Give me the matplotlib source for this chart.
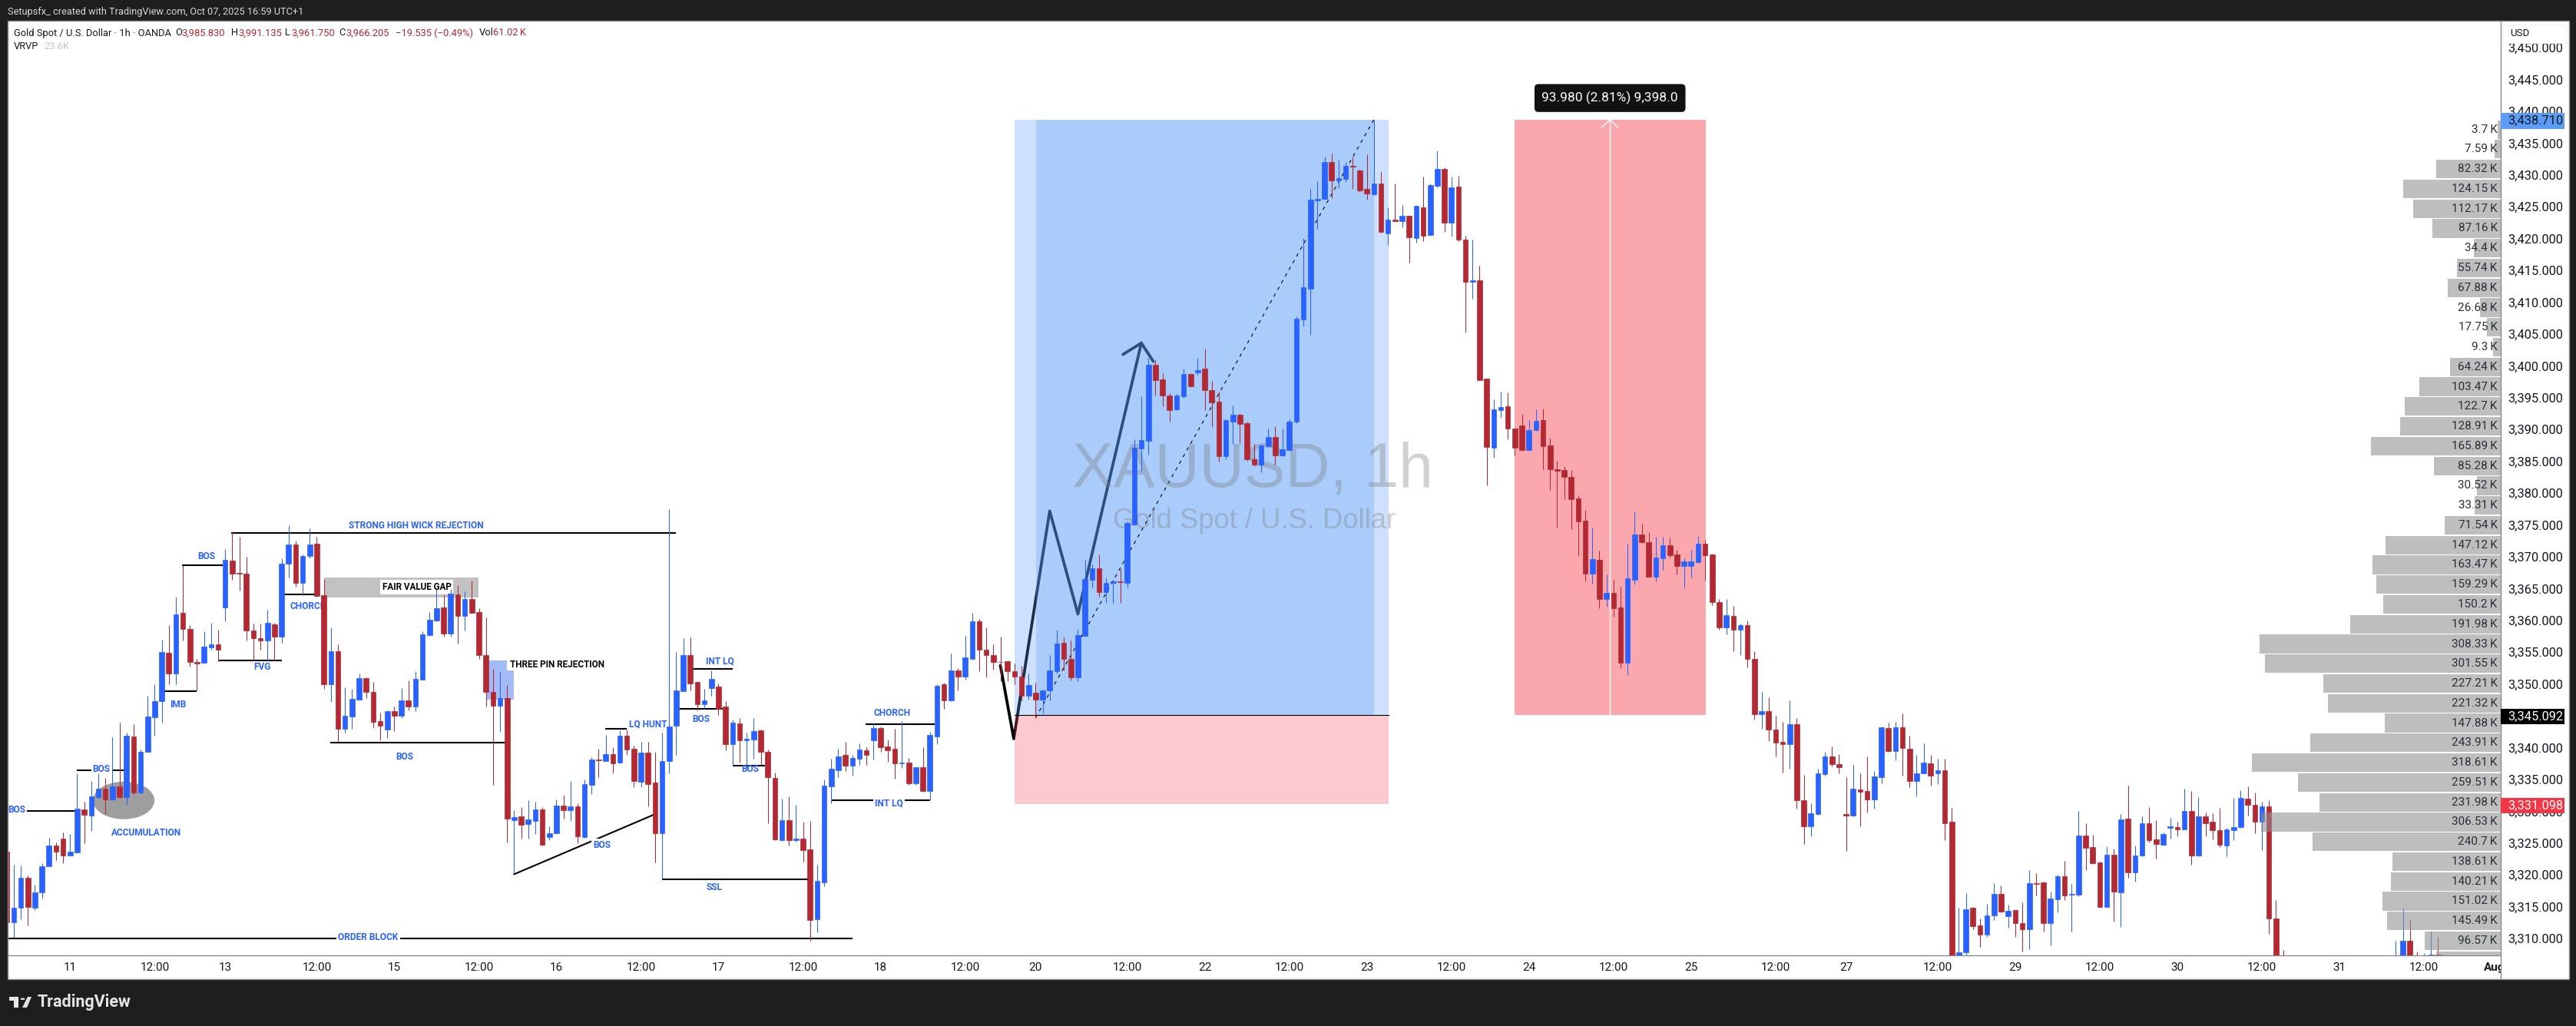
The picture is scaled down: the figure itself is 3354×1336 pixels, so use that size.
import numpy as np
import matplotlib
matplotlib.use("Agg")
import matplotlib.pyplot as plt
from matplotlib.patches import Rectangle, Ellipse, Polygon, Circle
from matplotlib.lines import Line2D
from matplotlib.transforms import blended_transform_factory

nan = float("nan")

#hourly XAUUSD candles, one value per bar
#bars that sit below the visible frame could not be read, those are nan
#values around 3305-3306 only mean "somewhere under the frame"
directions = ("duuduuuddu" "uduudududu" "uuududdduu" "dudddddudu" "uduudduduu"
              "udddududuu" "uudududddd" "ududuuduud" "uduudududd" "udduuuuddu"
              "udduduuddd" "ududduuuud" "uududddudu" "duududuudd" "ddddduduuu"
              "dduuuduudu" "uuuddduudu" "ddduuddduu" "duuuuuuudu" "udddududud"
              "uduududdud" "duuddduudd" "dddddududd" "uudduudduu" "udddududdu"
              "dddudduuud" "ddudduudud" "duududduud" "duududdudd" "uuduudddud"
              "uduudduudu" "duddduuudd" "uddduuuuuu" "uuuuuuuuuu" "udduud")

highs = [3323.6,3321.6,3321.5,3319.9,3318.5,3321.8,3325.8,3325.1,3326.7,3326.4,
         3336.0,3331.5,3334.8,3336.0,3335.2,3341.6,3343.9,3342.3,3343.7,3339.7,
         3348.2,3349.9,3357.0,3359.2,3363.7,3368.7,3359.3,3354.0,3358.3,3359.6,
         3358.5,3371.2,3374.0,3373.1,3370.0,3359.5,3359.5,3361.7,3359.6,3369.8,
         3374.9,3372.5,3370.3,3374.5,3373.1,3366.5,3358.9,3356.2,3349.5,3349.2,
         3351.6,3351.1,3350.3,3345.5,3345.8,3346.4,3349.4,3350.6,3352.0,3358.3,
         3361.3,3364.9,3364.1,3364.9,3365.5,3364.6,3366.3,3361.9,3360.5,3352.4,
         3352.0,3349.8,3330.2,3330.6,3331.7,3331.5,3330.7,3327.6,3331.8,3332.6,
         3334.8,3331.3,3335.0,3338.5,3339.8,3342.0,3340.1,3342.7,3342.8,3340.3,
         3340.9,3340.9,3339.3,3342.4,3377.5,3355.0,3357.2,3357.3,3350.4,3349.2,
         3352.1,3350.1,3347.3,3344.4,3344.7,3342.3,3344.7,3342.8,3339.7,3336.1,
         3332.0,3332.3,3331.0,3328.4,3328.5,3321.6,3335.0,3338.3,3339.8,3340.9,
         3338.9,3340.7,3340.1,3343.9,3343.3,3341.3,3343.0,3344.2,3338.4,3336.9,
         3340.1,3342.5,3350.0,3350.2,3354.8,3352.5,3357.6,3361.2,3360.2,3358.9,
         3356.2,3357.4,3353.7,3353.2,3352.8,3351.7,3350.2,3349.1,3354.5,3358.5,
         3357.4,3356.8,3358.7,3369.5,3368.8,3370.3,3366.6,3366.4,3368.1,3375.5,
         3388.5,3395.2,3401.2,3400.9,3398.9,3395.7,3395.6,3399.6,3398.9,3401.2,
         3402.7,3397.6,3395.9,3391.6,3393.8,3392.4,3391.2,3387.8,3387.6,3390.1,
         3390.5,3390.1,3391.6,3407.8,3420.1,3427.8,3429.0,3432.9,3433.4,3432.4,
         3432.1,3432.9,3431.0,3433.3,3438.7,3430.6,3424.9,3428.7,3425.3,3423.6,
         3425.2,3429.7,3428.6,3433.8,3431.2,3429.7,3429.9,3420.4,3419.8,3415.8,
         3398.0,3394.7,3395.9,3395.8,3390.2,3392.4,3391.5,3393.2,3393.3,3388.7,
         3385.1,3384.2,3383.6,3379.7,3377.4,3374.6,3371.0,3367.2,3366.4,3365.3,
         3372.0,3377.1,3375.2,3373.8,3373.1,3373.1,3373.0,3371.1,3369.8,3371.1,
         3373.3,3372.7,3370.5,3363.3,3363.3,3362.3,3359.5,3360.0,3355.1,3348.7,
         3347.9,3345.0,3344.1,3347.4,3344.7,3335.7,3331.2,3336.7,3339.3,3340.2,
         3339.0,3335.4,3337.3,3336.0,3338.6,3336.3,3343.2,3343.9,3344.0,3345.4,
         3341.9,3338.8,3340.7,3338.8,3338.2,3338.2,3330.5,3314.8,3317.1,3314.9,
         3313.2,3315.4,3318.7,3318.3,3315.3,3314.5,3315.7,3320.8,3320.3,3318.9,
         3317.4,3320.0,3322.2,3318.6,3330.0,3328.1,3326.3,3322.1,3324.5,3324.1,
         3329.6,3334.0,3324.6,3329.2,3330.6,3328.6,3326.7,3328.9,3328.3,3333.5,
         3333.2,3332.2,3329.8,3329.7,3330.5,3327.4,3332.1,3333.3,3333.9,3332.9,
         3331.5,3331.7,3316.1,3308.2,nan,nan,nan,nan,nan,nan,
         nan,nan,nan,nan,nan,nan,nan,nan,nan,3309.7,
         3314.7,3312.9,3308.0,3307.7,3311.1,3310.3]

body_tops = [3323.6,3314.8,3319.5,3319.5,3317.3,3321.3,3324.6,3324.6,3325.7,3323.7,
             3330.4,3330.3,3332.3,3333.5,3333.5,3333.9,3333.9,3341.9,3341.8,3339.3,
             3344.9,3347.3,3355.0,3354.9,3361.0,3361.2,3358.7,3353.5,3355.9,3356.2,
             3356.2,3369.5,3369.4,3367.5,3367.3,3358.4,3357.2,3359.6,3359.4,3368.9,
             3371.9,3371.9,3370.1,3371.9,3372.0,3364.0,3355.1,3355.1,3345.0,3347.7,
             3350.9,3350.9,3348.7,3344.2,3345.7,3345.7,3347.4,3347.4,3350.8,3357.8,
             3360.1,3361.9,3362.0,3364.2,3364.1,3363.3,3363.3,3361.3,3354.6,3348.7,
             3347.8,3347.8,3329.1,3329.2,3328.7,3330.3,3330.3,3326.6,3330.9,3330.9,
             3330.8,3330.8,3334.3,3338.1,3338.1,3339.0,3339.0,3341.9,3341.9,3339.8,
             3339.2,3339.2,3334.5,3337.9,3343.3,3349.0,3354.5,3354.6,3350.3,3347.4,
             3350.8,3349.6,3346.4,3343.9,3343.8,3341.4,3342.6,3342.7,3339.3,3335.2,
             3328.6,3328.6,3325.7,3325.7,3324.0,3319.0,3334.0,3336.7,3338.6,3338.8,
             3338.4,3339.7,3339.6,3343.1,3343.1,3340.2,3339.8,3337.6,3337.6,3336.9,
             3336.9,3342.0,3349.7,3349.9,3352.1,3352.1,3354.2,3359.9,3359.9,3355.4,
             3354.5,3353.5,3353.6,3352.0,3351.2,3349.8,3348.6,3349.0,3352.1,3356.3,
             3356.5,3354.0,3357.7,3366.5,3368.2,3368.2,3365.9,3366.1,3366.1,3375.3,
             3387.1,3388.4,3400.2,3400.2,3397.9,3395.4,3395.3,3398.7,3398.7,3399.3,
             3399.6,3396.2,3394.4,3391.5,3392.3,3392.3,3391.0,3385.3,3387.5,3388.8,
             3388.8,3386.9,3391.3,3407.4,3412.4,3426.1,3426.3,3432.1,3432.1,3429.5,
             3431.4,3431.4,3430.7,3427.8,3428.7,3428.7,3423.0,3423.0,3423.6,3423.6,
             3425.1,3424.9,3428.4,3431.0,3431.0,3428.1,3428.2,3419.8,3413.4,3413.4,
             3398.0,3393.2,3393.5,3393.6,3390.1,3390.6,3389.9,3391.4,3391.5,3387.5,
             3383.7,3383.6,3382.6,3379.2,3375.7,3369.6,3369.5,3364.3,3364.3,3362.0,
             3366.6,3373.5,3373.5,3372.3,3369.9,3371.8,3371.8,3370.4,3369.3,3369.3,
             3372.0,3372.0,3370.4,3362.9,3360.8,3360.7,3359.2,3359.2,3354.0,3345.7,
             3345.7,3342.8,3340.9,3343.7,3343.7,3331.7,3329.7,3335.9,3338.6,3338.6,
             3337.4,3329.5,3333.5,3333.4,3333.2,3335.5,3343.2,3343.1,3343.2,3343.2,
             3339.8,3336.0,3337.7,3337.5,3336.4,3336.4,3328.3,3307.8,3314.6,3314.8,
             3312.0,3313.6,3317.0,3317.0,3314.4,3314.5,3312.4,3318.7,3318.7,3318.8,
             3316.3,3319.8,3319.8,3317.0,3326.2,3326.2,3324.4,3322.0,3323.2,3323.2,
             3328.7,3328.8,3323.0,3328.1,3328.1,3325.6,3326.4,3327.6,3327.5,3330.0,
             3330.0,3329.2,3329.2,3328.3,3327.0,3327.1,3327.5,3332.1,3332.0,3331.0,
             3330.8,3330.8,3313.2,3306.9,nan,nan,nan,nan,nan,nan,
             nan,nan,nan,nan,nan,nan,nan,nan,nan,3306.5,
             3309.7,3309.7,3306.5,3306.5,3307.5,3307.5]

body_bottoms = [3312.6,3312.6,3314.8,3314.9,3314.8,3317.2,3321.3,3323.7,3323.1,3323.1,
                3323.5,3329.4,3329.3,3332.2,3331.8,3331.8,3332.2,3332.2,3332.9,3332.9,
                3339.3,3344.8,3347.3,3351.7,3351.7,3358.6,3353.5,3353.2,3353.3,3355.8,
                3355.4,3362.0,3367.4,3367.3,3358.4,3357.2,3356.9,3356.8,3357.4,3357.5,
                3368.9,3365.9,3365.9,3370.1,3363.8,3349.9,3349.9,3342.9,3342.9,3344.9,
                3347.5,3348.7,3344.0,3343.5,3342.8,3345.0,3345.0,3346.5,3346.5,3350.7,
                3357.7,3360.0,3357.9,3357.9,3360.7,3360.7,3361.2,3354.5,3348.7,3346.6,
                3346.6,3328.8,3328.6,3327.9,3328.0,3328.5,3324.7,3325.9,3326.6,3330.2,
                3330.2,3326.0,3325.9,3334.2,3338.0,3337.9,3337.5,3337.6,3339.7,3334.7,
                3334.6,3334.3,3326.6,3326.6,3337.9,3343.5,3348.9,3350.1,3346.8,3346.8,
                3349.4,3346.1,3340.6,3340.5,3341.2,3341.2,3341.3,3339.3,3335.3,3325.6,
                3325.5,3325.4,3325.4,3323.9,3312.9,3313.0,3318.8,3333.9,3336.5,3337.2,
                3337.2,3338.2,3338.8,3341.2,3340.1,3339.6,3337.5,3337.5,3334.4,3334.4,
                3333.2,3333.2,3341.8,3347.4,3347.4,3351.2,3351.2,3354.0,3355.4,3354.5,
                3353.5,3353.4,3352.0,3351.2,3348.1,3348.1,3347.5,3347.5,3349.0,3352.0,
                3354.0,3351.0,3351.1,3357.6,3366.4,3364.5,3364.4,3365.9,3366.0,3365.9,
                3375.1,3387.0,3388.2,3397.8,3395.3,3393.0,3393.2,3395.2,3396.8,3399.0,
                3396.2,3394.3,3385.8,3385.8,3391.3,3390.9,3385.3,3384.5,3384.5,3387.4,
                3385.9,3385.9,3386.8,3391.2,3407.3,3412.1,3426.0,3426.2,3429.1,3429.1,
                3429.4,3431.3,3427.6,3427.1,3427.0,3421.0,3420.8,3422.8,3422.7,3420.2,
                3420.1,3420.5,3420.6,3428.3,3422.5,3422.5,3419.8,3413.2,3413.2,3397.8,
                3387.2,3387.1,3393.1,3390.1,3387.1,3386.8,3386.8,3389.9,3387.4,3383.7,
                3383.5,3382.5,3379.1,3375.6,3367.4,3367.4,3363.4,3363.4,3361.9,3353.3,
                3353.3,3366.4,3372.3,3366.8,3366.8,3369.8,3370.2,3368.5,3368.6,3368.5,
                3369.1,3370.2,3362.9,3358.9,3358.9,3358.5,3358.5,3353.9,3345.3,3345.3,
                3342.8,3340.8,3340.6,3340.5,3331.7,3327.6,3327.6,3329.6,3335.8,3337.4,
                3336.9,3329.3,3329.3,3333.1,3331.9,3331.9,3335.4,3339.5,3339.4,3339.9,
                3334.8,3334.8,3335.9,3335.6,3335.9,3328.1,3306.0,3306.0,3307.8,3311.9,
                3310.6,3310.6,3313.6,3314.2,3313.5,3312.4,3311.4,3311.4,3318.6,3312.4,
                3312.4,3316.2,3316.8,3316.9,3316.9,3324.3,3321.8,3315.0,3315.0,3317.4,
                3317.3,3320.4,3320.4,3323.0,3325.5,3324.8,3324.7,3327.4,3327.2,3327.2,
                3323.0,3323.0,3328.1,3327.0,3324.7,3324.6,3327.0,3327.5,3331.0,3328.3,
                3328.3,3313.1,3306.0,3306.0,nan,nan,nan,nan,nan,nan,
                nan,nan,nan,nan,nan,nan,nan,nan,nan,3306.0,
                3306.0,3306.0,3306.0,3306.0,3306.0,3306.0]

lows = [3312.6,3310.1,3313.0,3312.1,3314.5,3316.3,3321.3,3322.3,3321.8,3323.0,
        3323.5,3325.0,3326.9,3332.0,3329.6,3331.7,3332.1,3331.0,3332.7,3332.7,
        3339.3,3341.9,3343.9,3350.0,3350.0,3356.8,3352.7,3349.0,3353.2,3355.4,
        3353.6,3359.8,3366.4,3364.7,3356.8,3353.7,3355.4,3353.7,3353.7,3356.5,
        3366.7,3365.3,3364.0,3369.8,3363.7,3349.2,3347.2,3340.9,3342.4,3342.9,
        3347.4,3347.8,3343.1,3341.2,3341.5,3342.6,3344.6,3345.8,3345.7,3350.7,
        3357.6,3359.9,3357.4,3357.5,3356.3,3358.4,3361.1,3354.0,3346.5,3334.2,
        3342.5,3325.1,3320.1,3325.7,3325.7,3326.4,3324.6,3325.5,3326.5,3328.8,
        3328.5,3325.0,3325.8,3332.7,3335.4,3337.9,3335.9,3337.5,3338.9,3333.8,
        3333.8,3330.8,3321.9,3319.4,3335.9,3338.9,3348.9,3349.0,3345.9,3346.1,
        3348.2,3345.1,3339.6,3337.2,3337.6,3336.8,3338.3,3337.3,3328.1,3325.5,
        3325.3,3324.6,3325.2,3322.1,3309.6,3311.0,3318.2,3331.2,3335.4,3336.3,
        3335.6,3337.3,3337.3,3338.1,3339.3,3337.8,3335.1,3336.8,3334.2,3334.2,
        3333.1,3331.8,3340.6,3346.1,3347.3,3349.0,3350.7,3354.0,3352.0,3351.1,
        3352.3,3350.5,3350.4,3350.0,3347.4,3347.5,3344.7,3345.4,3347.4,3351.6,
        3352.1,3350.6,3350.5,3357.6,3365.2,3363.7,3362.8,3362.7,3362.8,3365.2,
        3375.0,3383.5,3386.1,3395.3,3393.6,3391.2,3393.0,3395.0,3396.7,3398.6,
        3393.0,3390.4,3385.0,3385.3,3387.7,3387.9,3385.1,3384.2,3383.3,3387.3,
        3384.5,3385.8,3386.6,3391.0,3406.2,3404.9,3421.5,3426.2,3426.4,3427.9,
        3428.9,3427.8,3427.3,3426.1,3426.8,3420.9,3419.0,3422.7,3421.8,3416.2,
        3419.4,3419.6,3420.4,3428.1,3421.0,3420.3,3419.6,3405.3,3410.5,3397.7,
        3381.2,3385.6,3391.9,3388.5,3385.9,3386.7,3386.6,3389.8,3383.8,3380.5,
        3374.6,3379.0,3374.4,3370.1,3366.1,3365.8,3361.9,3362.1,3360.6,3352.5,
        3351.4,3365.6,3372.2,3366.7,3366.1,3367.9,3369.9,3367.2,3365.1,3366.7,
        3369.0,3366.2,3362.4,3358.5,3357.8,3355.1,3354.6,3352.6,3344.4,3343.0,
        3341.0,3338.6,3336.1,3336.7,3330.4,3324.9,3326.1,3329.4,3335.6,3337.1,
        3336.0,3323.8,3329.2,3327.6,3329.8,3330.4,3334.4,3339.3,3338.0,3335.6,
        3333.8,3332.3,3335.9,3334.0,3334.3,3325.5,3305.0,3305.0,3307.3,3311.4,
        3308.7,3310.2,3312.9,3314.1,3311.7,3310.2,3308.0,3308.3,3316.8,3311.1,
        3308.9,3314.1,3316.0,3311.1,3316.6,3320.8,3321.7,3314.9,3314.9,3312.7,
        3311.8,3319.5,3318.9,3322.9,3325.1,3322.5,3324.6,3325.7,3326.1,3327.1,
        3321.6,3322.9,3326.1,3325.6,3324.4,3322.9,3325.5,3327.4,3329.3,3326.6,
        3323.9,3310.7,3305.0,3305.0,nan,nan,nan,nan,nan,nan,
        nan,nan,nan,nan,nan,nan,nan,nan,nan,3305.0,
        3305.0,3305.0,3305.0,3305.0,3305.0,3305.0]

#time axis, bar index of each label
time_ticks = [9,21,31,44,55,67,78,90,101,113,124,136,146,159,170,182,193,205,216,228,
              239,251,261,274,285,297,308,320,331,343,353]
time_labels = ["11","12:00","13","12:00","15","12:00","16","12:00","17","12:00","18","12:00",
               "20","12:00","22","12:00","23","12:00","24","12:00","25","12:00","27","12:00",
               "29","12:00","30","12:00","31","12:00","Aug"]

price_ticks = list(range(3310, 3455, 5))

#VRVP rows from the top of the profile downward, in thousands
vrvp_values = [3.7,7.59,82.32,124.15,112.17,87.16,34.4,55.74,67.88,26.68,17.75,9.3,64.24,103.47,
               122.7,128.91,165.89,85.28,30.52,33.31,71.54,147.12,163.47,159.29,150.2,191.98,
               308.33,301.55,227.21,221.32,147.88,243.91,318.61,259.51,231.98,306.53,240.7,
               138.61,140.21,151.02,145.49,96.57,82.6]
vrvp_top = 3438.71
vrvp_row = 3.11

#trade levels
last_high = 3438.71
entry_price = 3345.092
stop_price = 3331.098

#user drawings: (bar start, bar end, price)
levels = [(2.9,9.7,3330.05),(9.9,12.0,3336.4),(15.0,16.8,3336.4),(24.9,30.7,3368.7),
          (22.4,27.0,3348.9),(30.0,39.0,3353.7),(31.9,95.0,3373.7),(39.4,43.8,3364.1),
          (45.9,70.8,3340.8),(84.9,88.0,3343.0),(0,120,3310.05),(97.3,103.0,3352.4),
          (95.4,101.6,3346.1),(103.0,107.6,3337.2),(93.0,113.7,3319.3),(117.0,131.0,3331.7),
          (121.9,131.7,3343.7)]
#trend line below the second BOS
trend_bars = [72.0, 91.7]
trend_prices = [3320.1, 3329.4]
#the hand drawn swing path
path_bars = [141.0,142.9,148.0,152.0,161.0]
path_prices = [3352.9,3341.4,3377.2,3361.0,3403.6]
head_bars = [158.4,161.0,162.7]
head_prices = [3401.8,3403.6,3400.7]

#blue labels: text, bar, price
blue_labels = [("STRONG HIGH WICK REJECTION",58.1,3374.9),("BOS",28.35,3370.0),("CHORCH",42.8,3362.2),
               ("FVG",36.3,3352.7),("IMB",24.3,3346.8),("BOS",13.4,3336.65),("BOS",1.4,3330.2),
               ("ACCUMULATION",19.84,3326.6),("BOS",56.5,3338.6),("LQ HUNT",91.0,3343.7),
               ("INT LQ",101.2,3353.6),("BOS",98.5,3344.5),("BOS",105.5,3336.6),("SSL",100.4,3318.0),
               ("CHORCH",125.6,3345.4)]
#these sit on a line so they get a white background
blue_boxed_labels = [("BOS",84.46,3324.7),("ORDER BLOCK",51.3,3310.2),("INT LQ",125.2,3331.2)]

W = 3355
H = 1336
PLOT_LEFT = 10
PLOT_RIGHT = 3255.7
PLOT_TOP = 27
PLOT_BOTTOM = 1244
PANEL_RIGHT = 3345
PANEL_BOTTOM = 1275

UP = "#2962ff"
DOWN = "#b22833"
TAG = "#131722"

plt.rcParams["font.family"] = ["Roboto", "DejaVu Sans"]


def fig_rect(fig, x0, y0, x1, y1, zorder, **kw):
    #rectangle in screenshot pixels, for the chrome around the chart
    r = Rectangle((x0 / W, 1 - y1 / H), (x1 - x0) / W, (y1 - y0) / H,
                  transform=fig.transFigure, zorder=zorder, **kw)
    fig.add_artist(r)


def fig_label(fig, x, y, s, **kw):
    fig.text(x / W, 1 - y / H, s, va="center", **kw)


def draw_drawings(ax):
    #anything behind the blue position box
    ax.add_patch(Rectangle((45.0, 3363.6), 21.9, 3.15, color="#c2c2c2", lw=0, zorder=1))
    ax.add_patch(Ellipse((16.6, 3331.7), 8.74, 5.9, color="#9e9e9e", lw=0, zorder=1))
    ax.add_patch(Rectangle((68.3, 3347.5), 2.7, 6.2, color="#a3bcf9", lw=0, zorder=1))
    ax.add_patch(Rectangle((68.0, 3347.5), 3.95, 4.6, color="#a3bcf9", lw=0, zorder=1))
    ax.plot(path_bars, path_prices, color="black", lw=2.7, solid_joinstyle="round",
            solid_capstyle="round", zorder=1.2)
    ax.plot(head_bars, head_prices, color="black", lw=2.7, solid_joinstyle="round",
            solid_capstyle="round", zorder=1.2)
    for start, end, price in levels:
        ax.plot([start, end], [price, price], color="black", lw=1.5, zorder=1.5, solid_capstyle="butt")
    ax.plot(trend_bars, trend_prices, color="black", lw=1.5, zorder=1.5)

    #long position tool
    ax.add_patch(Rectangle((143.0, entry_price), 53.1, last_high - entry_price,
                           color="#5b9cf6", alpha=0.3, lw=0, zorder=2))
    ax.add_patch(Rectangle((146.05, entry_price), 47.95, last_high - entry_price,
                           color="#5b9cf6", alpha=0.3, lw=0, zorder=2))
    ax.add_patch(Rectangle((143.0, stop_price), 53.1, entry_price - stop_price,
                           color="#f7525f", alpha=0.3, lw=0, zorder=2))
    ax.plot([143.0, 196.1], [entry_price, entry_price], color="black", lw=0.8, zorder=2.1)
    ax.plot([146.0, 194.0], [3344.7, last_high], color="black", lw=0.8, ls=(0, (4, 5)), zorder=2.1)

    #price range tool
    ax.add_patch(Rectangle((213.95, entry_price), 27.15, last_high - entry_price,
                           color="#f7525f", alpha=0.5, lw=0, zorder=2))
    ax.plot([227.5, 227.5], [entry_price, last_high], color="white", lw=1.0, zorder=2.1)
    ax.plot([226.3, 227.5, 228.6], [3437.5, last_high, 3437.5], color="white", lw=1.0, zorder=2.1)
    ax.text(227.5, 3442.1, "93.980 (2.81%) 9,398.0", color="white", fontsize=12.5, ha="center",
            va="center", zorder=6,
            bbox=dict(boxstyle="round,pad=0.55,rounding_size=0.3", fc="#111111", ec="none"))

    #watermark
    ax.text(176.8, 3383.6, "XAUUSD, 1h", family="Liberation Sans", fontsize=58, color="#787878",
            alpha=0.34, ha="center", va="center", zorder=2.2)
    ax.text(177.0, 3375.6, "Gold Spot / U.S. Dollar", family="Liberation Sans", fontsize=26.2,
            color="#787878", alpha=0.34, ha="center", va="center", zorder=2.2)

    for s, bar, price in blue_labels:
        ax.text(bar, price, s, color=UP, fontsize=8.6, fontweight="bold", ha="center", va="center", zorder=2.5)
    for s, bar, price in blue_boxed_labels:
        ax.text(bar, price, s, color=UP, fontsize=8.6, fontweight="bold", ha="center", va="center", zorder=2.5,
                bbox=dict(fc="white", ec="none", pad=1.5))
    ax.text(58.2, 3365.2, "FAIR VALUE GAP", color="black", fontsize=8.4, fontweight="bold", ha="center",
            va="center", zorder=2.5, bbox=dict(fc="white", ec="none", pad=2))
    ax.text(78.1, 3353.0, "THREE PIN REJECTION", color="black", fontsize=8.5, fontweight="bold",
            ha="center", va="center", zorder=2.5)


def draw_candles(ax):
    bars = np.arange(len(highs))
    up = np.array([d == "u" for d in directions])
    h = np.array(highs)
    t = np.array(body_tops)
    b = np.array(body_bottoms)
    l = np.array(lows)
    colors = np.where(up, UP, DOWN)
    ax.vlines(bars, l, h, colors=colors, lw=0.75, zorder=3)
    ax.bar(bars, t - b, bottom=b, width=0.72, color=colors, edgecolor=colors, lw=0.5, zorder=3.1)


def draw_vrvp(ax_vp):
    centers = [vrvp_top - vrvp_row * (i + 0.5) for i in range(len(vrvp_values))]
    ax_vp.barh(centers, vrvp_values, height=vrvp_row * 0.94, color="#8f8f8f", alpha=0.58, lw=0)
    for y, v in zip(centers, vrvp_values):
        ax_vp.text(4, y, f"{v:g}\u2009K", ha="right", va="center", fontsize=11, color="#2a2e39",
                   clip_on=True, zorder=5)


def draw_price_tag(fig, ax, price, face, text_color):
    #the coloured tags on the price scale
    trans = blended_transform_factory(fig.transFigure, ax.transData)
    y = price - 0.2
    r = Rectangle((3256.5 / W, y - 1.25), (3339 - 3256.5) / W, 2.5, transform=trans, color=face, lw=0, zorder=6)
    fig.add_artist(r)
    t = fig.text(3265.7 / W, y, f"{price:,.3f}", transform=trans, color=text_color, fontsize=11.8,
                 va="center", zorder=7)
    return t


def draw_chrome(fig):
    fig_label(fig, 10, 16, "Setupsfx_ created with TradingView.com, Oct 07, 2025 16:59 UTC+1",
              color="#d8d8d8", fontsize=9.2)

    #ohlc legend
    y = 43
    for x, s, c in [(18, "Gold Spot / U.S. Dollar \u00b7 1h \u00b7 OANDA", "#131722"), (228, "O", "#131722"),
                    (236.5, "3,985.830", DOWN), (301, "H", "#131722"), (310.5, "3,991.135", DOWN),
                    (371, "L", "#131722"), (379.5, "3,961.750", DOWN), (441, "C", "#131722"),
                    (450.6, "3,966.205", DOWN), (515, "\u221219.535 (\u22120.49%)", DOWN),
                    (624, "Vol", "#131722"), (642, "61.02\u2009K", DOWN)]:
        fig_label(fig, x, y, s, color=c, fontsize=9.3, zorder=8)
    fig_label(fig, 18, 60, "VRVP", color="#131722", fontsize=9.3, zorder=8)
    fig_label(fig, 57, 60, "23.6K", color="#c4c4c4", fontsize=9.3, zorder=8)

    #currency button over the price scale
    fig_rect(fig, 3259, 31.7, 3340.7, 56.4, 5, fc="white", ec="#eeeeee", lw=0.8)
    fig_label(fig, 3268, 43.4, "USD", color="#131722", fontsize=9.5, zorder=6)

    #the corner under the price scale hides the end of the Aug label
    fig_rect(fig, 3256.2, 1244.8, PANEL_RIGHT, PANEL_BOTTOM, 5, fc="white", ec="none")
    fig.add_artist(Line2D([PLOT_RIGHT / W] * 2, [1 - PLOT_TOP / H, 1 - PANEL_BOTTOM / H], color="#8a8a8a",
                          lw=1.0, transform=fig.transFigure, zorder=5.5))
    fig_rect(fig, PLOT_LEFT, PLOT_TOP, PANEL_RIGHT, PANEL_BOTTOM, 5.5, fc="none", ec="#8a8a8a", lw=1.0)

    #tradingview logo
    def pt(x, y):
        return (x / W, 1 - y / H)
    for shape in [[pt(12, 1298), pt(24, 1298), pt(24, 1312), pt(18, 1312), pt(18, 1303), pt(12, 1303)],
                  [pt(36, 1298), pt(41, 1298), pt(35, 1312), pt(29, 1312)]]:
        fig.add_artist(Polygon(shape, closed=True, fc="#e6e6e6", ec="none", transform=fig.transFigure))
    fig.add_artist(Circle(pt(29.5, 1300.8), 3 / W, fc="#e6e6e6", ec="none", transform=fig.transFigure))
    fig_label(fig, 49, 1305, "TradingView", color="#e6e6e6", fontsize=15.5, fontweight="bold")


def main():
    fig = plt.figure(figsize=(W / 100, H / 100), dpi=100, facecolor="#1e1e1e")
    fig_rect(fig, PLOT_LEFT, PLOT_TOP, PANEL_RIGHT, PANEL_BOTTOM, -1, fc="white", ec="none")

    pos = [PLOT_LEFT / W, 1 - PLOT_BOTTOM / H, (PLOT_RIGHT - PLOT_LEFT) / W, (PLOT_BOTTOM - PLOT_TOP) / H]
    ax = fig.add_axes(pos, zorder=1)
    ax.set_xlim(0.14, 353.86)
    ax.set_ylim(3307.35, 3454.25)
    ax.set_facecolor("white")
    for side in ["top", "left", "right"]:
        ax.spines[side].set_visible(False)
    ax.spines["bottom"].set_color("#8a8a8a")
    ax.spines["bottom"].set_linewidth(1.0)

    ax.yaxis.tick_right()
    ax.set_yticks(price_ticks)
    ax.set_yticklabels([f"{p:,.3f}" for p in price_ticks])
    ax.tick_params(axis="y", length=0, pad=7.2, labelsize=11.8, labelcolor=TAG)
    ax.set_xticks(time_ticks)
    ax.set_xticklabels(time_labels)
    ax.tick_params(axis="x", length=0, pad=6.5, labelsize=11, labelcolor=TAG)
    ax.get_xticklabels()[-1].set_fontweight("bold")

    draw_drawings(ax)
    draw_candles(ax)

    #volume profile shares the price scale, its x runs from the right edge
    ax_vp = fig.add_axes(pos, zorder=2)
    ax_vp.patch.set_visible(False)
    ax_vp.set_xlim((PLOT_RIGHT - PLOT_LEFT) / 1.017, 0)
    ax_vp.set_ylim(ax.get_ylim())
    ax_vp.axis("off")
    draw_vrvp(ax_vp)

    draw_price_tag(fig, ax, last_high, "#5b9cf6", TAG)
    draw_price_tag(fig, ax, entry_price, "black", "white")
    draw_price_tag(fig, ax, stop_price, "#f23645", "white")
    draw_chrome(fig)

    fig.savefig("out.png", dpi=100, facecolor=fig.get_facecolor())


main()
